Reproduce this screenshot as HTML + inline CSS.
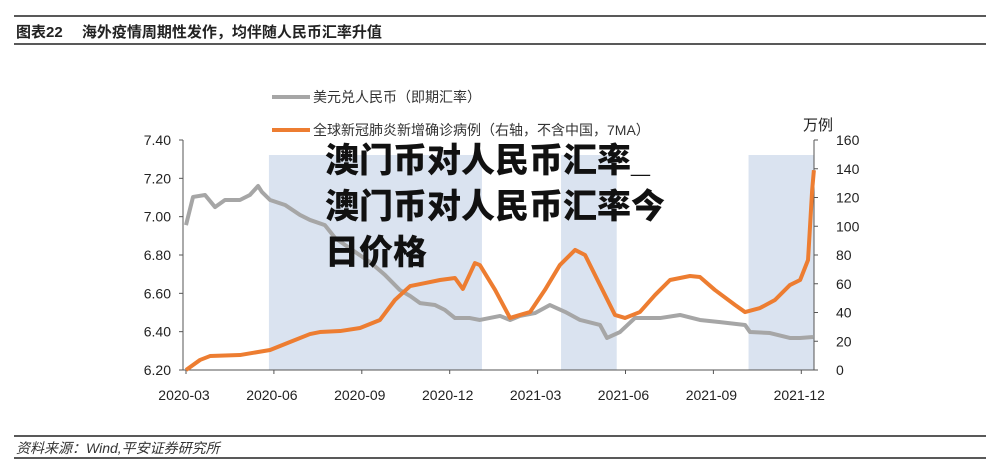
<!DOCTYPE html>
<html><head><meta charset="utf-8">
<style>
body{margin:0;background:#fff;width:1000px;height:474px;overflow:hidden;font-family:"Liberation Sans","Noto Sans CJK SC",sans-serif;}
svg{display:block}
</style></head>
<body>
<svg id="chart" width="1000" height="474" viewBox="0 0 1000 474">
<line x1="14" y1="16" x2="986" y2="16" stroke="#222" stroke-width="1.5"/>
<text x="16" y="37" font-size="15" font-weight="bold" fill="#222">图表22　 海外疫情周期性发作，均伴随人民币汇率升值</text>
<line x1="14" y1="44" x2="986" y2="44" stroke="#222" stroke-width="1.5"/>
<g id="bands"></g>
<g id="axes"></g>
<g id="series"></g>
<g>
<line x1="272" y1="97" x2="310" y2="97" stroke="#a6a6a6" stroke-width="4"/>
<text x="313" y="102" font-size="14" fill="#333">美元兑人民币（即期汇率）</text>
<line x1="272" y1="130" x2="310" y2="130" stroke="#ed7d31" stroke-width="4"/>
<text x="313" y="135" font-size="14" fill="#333">全球新冠肺炎新增确诊病例（右轴，不含中国，7MA）</text>
</g>
<text x="803" y="130" font-size="15" fill="#222">万例</text>
<g font-size="34" font-weight="900" fill="#111">
<text x="325" y="172">澳门币对人民币汇率_</text>
<text x="325" y="218">澳门币对人民币汇率今</text>
<text x="325" y="264">日价格</text>
</g>
<line x1="14" y1="436" x2="986" y2="436" stroke="#222" stroke-width="1.5"/>
<text x="16" y="453" font-size="14" font-style="italic" fill="#333">资料来源：Wind,平安证券研究所</text>
<line x1="14" y1="458" x2="986" y2="458" stroke="#222" stroke-width="1.5"/>
</svg>
<script>
// months since 2020-03 start
const xTickLabels=["2020-03","2020-06","2020-09","2020-12","2021-03","2021-06","2021-09","2021-12"];
const xTickMonths=[0,3,6,9,12,15,18,21];
const leftTicks=[6.20,6.40,6.60,6.80,7.00,7.20,7.40];
const rightTicks=[0,20,40,60,80,100,120,140,160];
const bandStarts=[2.83,12.8,19.2];
const bandEnds=[10.1,14.7,21.45];
const rateMonths=[0,.24,.65,.99,1.33,1.84,2.18,2.46,2.59,2.87,3.38,3.89,4.23,4.74,5.09,5.43,5.77,6.28,6.79,7.30,7.65,7.99,8.50,8.84,9.18,9.69,10.03,10.72,11.06,11.40,11.91,12.42,12.94,13.45,14.13,14.37,14.81,15.32,16.18,16.86,17.54,18.23,19.08,19.25,19.93,20.61,20.96,21.40];
const rateValues=[6.956,7.103,7.113,7.050,7.087,7.087,7.113,7.160,7.129,7.087,7.061,7.009,6.983,6.956,6.889,6.852,6.816,6.763,6.696,6.617,6.586,6.549,6.539,6.513,6.471,6.471,6.461,6.482,6.461,6.482,6.497,6.539,6.503,6.461,6.435,6.367,6.398,6.471,6.471,6.487,6.461,6.450,6.435,6.398,6.393,6.367,6.367,6.372];
const caseMonths=[0,.48,.82,1.84,2.87,3.55,4.23,4.57,5.26,5.94,6.62,7.13,7.65,8.16,8.67,9.18,9.45,9.86,10.03,10.55,11.06,11.40,11.74,12.25,12.76,13.28,13.62,14.13,14.64,14.98,15.49,16.01,16.52,17.20,17.54,18.05,18.74,19.08,19.59,20.10,20.61,20.96,21.23,21.37,21.43];
const caseValues=[0,7,9.7,10.4,13.9,19.5,25,26.4,27.1,29.2,34.8,48.7,58.4,60.5,62.6,64,56.4,74.4,73,55.7,36.2,38.3,40.3,55.7,73,83.5,80,59.1,38.3,36.2,40.3,52.2,62.6,65.4,64.7,55.7,45.2,40.3,43.1,48.7,59.1,62.6,76.5,125,139];

const NS="http://www.w3.org/2000/svg";
const X0=186,PXM=29.3,TOP=140,BOT=370,L=183,R=814;
const xs=m=>X0+m*PXM;
const yl=v=>TOP+(7.40-v)/1.2*(BOT-TOP);
const yr=v=>BOT-v/160*(BOT-TOP);
function mk(tag,attrs,parent){const e=document.createElementNS(NS,tag);for(const k in attrs)e.setAttribute(k,attrs[k]);parent.appendChild(e);return e;}
const bands=document.getElementById('bands');
bandStarts.forEach((s,i)=>{
  const r=mk('rect',{x:xs(s),y:155,width:xs(bandEnds[i])-xs(s),height:BOT-155,fill:'#dae3f0'},bands);
  
  
});
const ax=document.getElementById('axes');
let e;
e=mk('line',{x1:L,y1:TOP,x2:L,y2:BOT,stroke:'#555','stroke-width':1},ax);


e=mk('line',{x1:R,y1:TOP,x2:R,y2:BOT,stroke:'#555','stroke-width':1},ax);


e=mk('line',{x1:L,y1:BOT,x2:R,y2:BOT,stroke:'#555','stroke-width':1},ax);


leftTicks.forEach(v=>{
  mk('line',{x1:L-4,y1:yl(v),x2:L,y2:yl(v),stroke:'#555'},ax);
  const t=mk('text',{x:L-12,y:yl(v)+5,'font-size':14,'text-anchor':'end',fill:'#222'},ax);
  t.textContent=v.toFixed(2);
  
  
});
rightTicks.forEach(v=>{
  mk('line',{x1:R,y1:yr(v),x2:R+4,y2:yr(v),stroke:'#555'},ax);
  const t=mk('text',{x:R+22,y:yr(v)+5,'font-size':14,'text-anchor':'start',fill:'#222'},ax);
  t.textContent=v;
  
  
});
xTickMonths.forEach((m,i)=>{
  mk('line',{x1:xs(m),y1:BOT,x2:xs(m),y2:BOT+4,stroke:'#555'},ax);
  const t=mk('text',{x:xs(m)-2,y:BOT+30,'font-size':14,'text-anchor':'middle',fill:'#222'},ax);
  t.textContent=xTickLabels[i];
  
  
});
const sg=document.getElementById('series');
const p1=mk('polyline',{points:rateMonths.map((m,i)=>xs(m)+','+yl(rateValues[i])).join(' '),fill:'none',stroke:'#a6a6a6','stroke-width':4,'stroke-linejoin':'round'},sg);


const p2=mk('polyline',{points:caseMonths.map((m,i)=>xs(m)+','+yr(caseValues[i])).join(' '),fill:'none',stroke:'#ed7d31','stroke-width':4,'stroke-linejoin':'round'},sg);


</script>
</body></html>
